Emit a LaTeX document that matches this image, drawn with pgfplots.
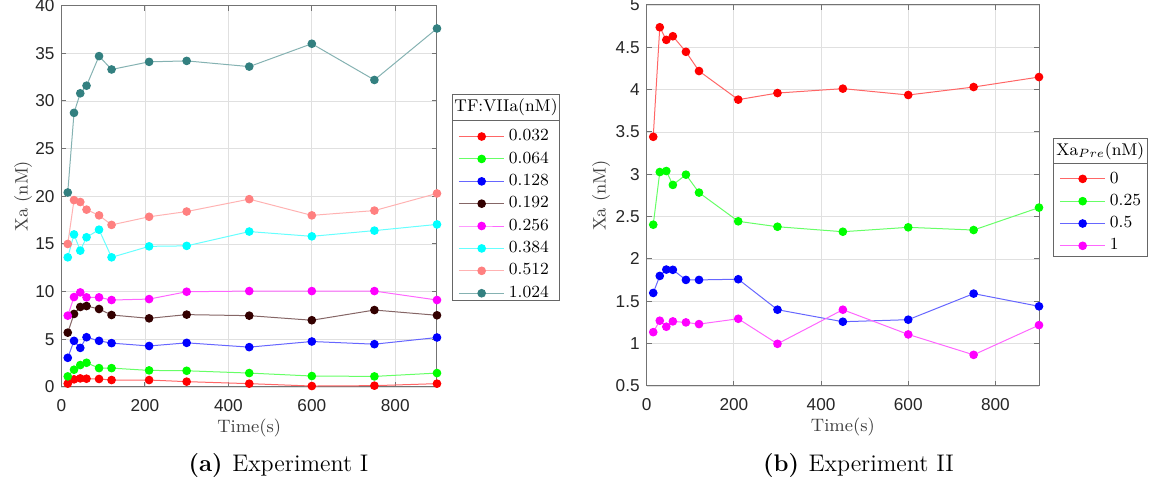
\documentclass[border=0pt]{standalone}
\usepackage{fontspec}
\setsansfont{Liberation Sans}
\usepackage{pgfplots}
\usepackage{pgfplotstable}
\pgfplotsset{compat=1.18}

\definecolor{cred}{rgb}{1,0,0}
\definecolor{cgreen}{rgb}{0,1,0}
\definecolor{cblue}{rgb}{0,0,1}
\definecolor{cmagenta}{rgb}{1,0,1}
\definecolor{ccyan}{rgb}{0,1,1}
\definecolor{cbrown}{rgb}{0.2,0,0}
\definecolor{csalmon}{rgb}{1,0.5,0.5}
\definecolor{cteal}{rgb}{0.2,0.5,0.5}
\definecolor{axcol}{rgb}{0.45,0.45,0.45}
\definecolor{tkcol}{rgb}{0.15,0.15,0.15}
\definecolor{labcol}{rgb}{0.25,0.25,0.25}
\definecolor{gridcol}{rgb}{0.88,0.88,0.88}
\definecolor{legcol}{rgb}{0.4,0.4,0.4}

\pgfplotstableread{
t a b c d e f g h
15 0.35 1.11 3.06 5.70 7.48 13.6 15.0 20.4
30 0.80 1.81 4.84 7.66 9.43 16.0 19.6 28.75
45 0.90 2.30 4.10 8.39 9.92 14.3 19.4 30.8
60 0.87 2.54 5.22 8.49 9.40 15.7 18.6 31.6
90 0.84 1.98 4.84 8.18 9.40 16.5 18.0 34.7
120 0.73 1.98 4.60 7.55 9.12 13.6 17.0 33.3
210 0.73 1.74 4.30 7.20 9.22 14.75 17.85 34.1
300 0.56 1.70 4.63 7.59 9.99 14.8 18.4 34.2
450 0.35 1.46 4.18 7.48 10.06 16.3 19.7 33.6
600 0.10 1.15 4.77 7.00 10.06 15.8 18.0 36.0
750 0.14 1.11 4.49 8.07 10.06 16.4 18.5 32.2
900 0.35 1.46 5.19 7.52 9.12 17.05 20.3 37.6
}\expA

\pgfplotstableread{
t a b c d
15 3.443 2.405 1.599 1.136
30 4.737 3.027 1.800 1.271
45 4.588 3.039 1.875 1.200
60 4.631 2.875 1.872 1.263
90 4.447 2.996 1.753 1.251
120 4.220 2.784 1.753 1.231
210 3.882 2.445 1.761 1.294
300 3.960 2.381 1.401 0.998
450 4.012 2.322 1.259 1.401
600 3.937 2.374 1.283 1.109
750 4.031 2.342 1.591 0.868
900 4.149 2.607 1.441 1.219
}\expB

\pgfplotsset{
  myaxis/.style={
    scale only axis,
    xmin=0, xmax=900, xtick={0,200,400,600,800},
    tick align=inside,
    major tick length=2.5pt,
    grid=major,
    major grid style={gridcol, line width=0.4pt},
    axis line style={axcol, line width=0.5pt},
    every tick/.style={axcol, line width=0.5pt},
    tick label style={font=\sffamily\fontsize{8.6}{10}\selectfont, text=tkcol},
    /pgf/number format/assume math mode=true,
    xticklabel style={yshift=-2.5pt},
    label style={font=\fontsize{9}{11}\selectfont, text=labcol},
    xlabel style={at={(axis description cs:0.5,0)}, anchor=north, yshift=-12.5pt},
    clip=false,
    legend image code/.code={\draw[mark repeat=2,mark phase=2] plot coordinates {(0cm,0cm)(0.4cm,0cm)(0.8cm,0cm)};},
    legend style={draw=none, fill=none, font=\fontsize{8.5}{10}\selectfont, row sep=0pt},
    legend cell align=left,
  },
  ser/.style={color=#1!60!white, line width=0.5pt, mark=*, mark size=1.9pt, mark options={draw=#1, fill=#1}},
}

\begin{document}
\begin{tikzpicture}
\path[use as bounding box] (-30.75pt,-51.5pt) rectangle (547.25pt,193.5pt);

\begin{axis}[myaxis,
  at={(0pt,0pt)}, anchor=south west,
  width=187.75pt, height=190.7pt,
  ymin=0, ymax=40, ytick={0,5,10,15,20,25,30,35,40},
  xlabel={Time(s)}, ylabel={Xa (nM)},
  ylabel style={at={(axis description cs:-0.102,0.5)}, anchor=center},
  legend style={at={(axis description cs:1.040,0.6975)}, anchor=north west},
]
\addplot[ser=cred] table[x=t,y=a]{\expA}; \addlegendentry{0.032}
\addplot[ser=cgreen] table[x=t,y=b]{\expA}; \addlegendentry{0.064}
\addplot[ser=cblue] table[x=t,y=c]{\expA}; \addlegendentry{0.128}
\addplot[ser=cbrown] table[x=t,y=d]{\expA}; \addlegendentry{0.192}
\addplot[ser=cmagenta] table[x=t,y=e]{\expA}; \addlegendentry{0.256}
\addplot[ser=ccyan] table[x=t,y=f]{\expA}; \addlegendentry{0.384}
\addplot[ser=csalmon] table[x=t,y=g]{\expA}; \addlegendentry{0.512}
\addplot[ser=cteal] table[x=t,y=h]{\expA}; \addlegendentry{1.024}
\draw[legcol, line width=0.5pt] (axis description cs:1.040,0.767) rectangle (axis description cs:1.3275,0.226);
\draw[legcol, line width=0.5pt] (axis description cs:1.040,0.6975) -- (axis description cs:1.3275,0.6975);
\node[font=\fontsize{8.5}{10}\selectfont] at (axis description cs:1.18375,0.7323) {TF:VIIa(nM)};
\end{axis}

\begin{axis}[myaxis,
  at={(292.6pt,0.5pt)}, anchor=south west,
  width=196.15pt, height=190.5pt,
  ymin=0.5, ymax=5, ytick={0.5,1,1.5,2,2.5,3,3.5,4,4.5,5},
  xlabel={Time(s)}, ylabel={Xa (nM)},
  ylabel style={at={(axis description cs:-0.1165,0.5)}, anchor=center},
  legend style={at={(axis description cs:1.0357,0.5845)}, anchor=north west},
]
\addplot[ser=cred] table[x=t,y=a]{\expB}; \addlegendentry{0}
\addplot[ser=cgreen] table[x=t,y=b]{\expB}; \addlegendentry{0.25}
\addplot[ser=cblue] table[x=t,y=c]{\expB}; \addlegendentry{0.5}
\addplot[ser=cmagenta] table[x=t,y=d]{\expB}; \addlegendentry{1}
\draw[legcol, line width=0.5pt] (axis description cs:1.0357,0.650) rectangle (axis description cs:1.277,0.341);
\draw[legcol, line width=0.5pt] (axis description cs:1.0357,0.5845) -- (axis description cs:1.277,0.5845);
\node[font=\fontsize{8.5}{10}\selectfont] at (axis description cs:1.15635,0.6173) {Xa$_{Pre}$(nM)};
\end{axis}

\node[anchor=base, font=\fontsize{12}{14}\selectfont] at (108.5pt,-42.5pt) {\textbf{(a)}\hspace{0.4em}Experiment I};
\node[anchor=base, font=\fontsize{12}{14}\selectfont] at (398.5pt,-42.5pt) {\textbf{(b)}\hspace{0.4em}Experiment II};
\end{tikzpicture}
\end{document}
